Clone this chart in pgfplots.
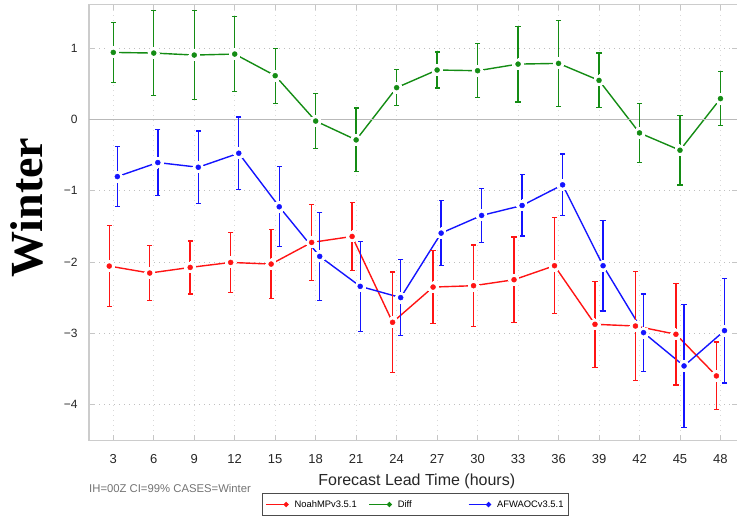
\documentclass[border=0pt]{standalone}
\usepackage{fontspec}
\setmainfont{Liberation Sans}
\newfontfamily\winterfont{Liberation Serif}
\usepackage{pgfplots}
\usepackage{pgfplotstable}
\pgfplotsset{compat=1.18}

\definecolor{noahred}{RGB}{255,20,20}
\definecolor{diffgreen}{RGB}{20,140,20}
\definecolor{afwablue}{RGB}{20,20,255}

% columns: lead time (red -0.3 / blue +0.3 offset), mean, 99% CI half width
\pgfplotstableread{
x y e
2.7 -2.057 0.565
5.7 -2.155 0.390
8.7 -2.076 0.372
11.7 -2.006 0.423
14.7 -2.029 0.484
17.7 -1.725 0.534
20.7 -1.641 0.477
23.7 -2.847 0.706
26.7 -2.352 0.510
29.7 -2.333 0.572
32.7 -2.249 0.600
35.7 -2.052 0.673
38.7 -2.875 0.603
41.7 -2.899 0.768
44.7 -3.015 0.713
47.7 -3.600 0.476
}\noah

\pgfplotstableread{
x y e
3 0.944 0.421
6 0.935 0.595
9 0.907 0.628
12 0.921 0.525
15 0.617 0.386
18 -0.020 0.385
21 -0.285 0.447
24 0.449 0.255
27 0.697 0.252
30 0.687 0.377
33 0.780 0.533
36 0.790 0.605
39 0.551 0.384
42 -0.187 0.417
45 -0.430 0.488
48 0.295 0.377
}\diff

\pgfplotstableread{
x y e
3.3 -0.800 0.423
6.3 -0.603 0.459
9.3 -0.669 0.510
12.3 -0.472 0.509
15.3 -1.224 0.560
18.3 -1.921 0.620
21.3 -2.342 0.634
24.3 -2.500 0.530
27.3 -1.594 0.456
30.3 -1.346 0.382
33.3 -1.206 0.430
36.3 -0.916 0.433
39.3 -2.052 0.636
42.3 -2.992 0.543
45.3 -3.460 0.868
48.3 -2.964 0.735
}\afwa

\pgfplotsset{
  trace/.style={color=#1, line width=1.4pt, mark=none},
  halo/.style={color=white, only marks, mark=*, mark size=5.5pt,
    mark options={draw=white, fill=white, line width=0pt}, forget plot},
  ebar/.style={color=#1, line width=1.4pt, mark=none, forget plot,
    quiver={u=0, v=2*\thisrow{e}}},
  ecap/.style={color=#1, only marks, mark=-, mark size=2.6pt,
    mark options={line width=1.2pt}, forget plot},
  dots/.style={color=#1, only marks, mark=*, mark size=2.5pt, forget plot},
}

\begin{document}
\begin{tikzpicture}
\useasboundingbox (0,0) rectangle (737pt,517pt);
\begin{axis}[
  at={(89pt,76.3pt)}, anchor=south west,
  scale only axis,
  width=649pt, height=436.4pt,
  xmin=1.2, xmax=49.3,
  ymin=-4.51, ymax=1.62,
  xtick={3,6,...,48},
  ytick={-4,-3,-2,-1,0,1},
  yticklabels={−4,−3,−2,−1,0,1},
  /pgf/number format/assume math mode=true,
  tick align=inside,
  major tick length=6pt,
  tick style={gray!45, line width=0.8pt},
  axis line style={gray!40, line width=1.2pt},
  xmajorgrids, ymajorgrids,
  every axis x grid/.style={gray!30, dash pattern=on 1pt off 4pt, line width=0.8pt},
  every axis y grid/.style={gray!50, dash pattern=on 1.2pt off 3.8pt, line width=1pt},
  xticklabel style={font=\fontsize{13}{15}\selectfont, text=black!85, yshift=-10pt},
  yticklabel style={font=\fontsize{12}{14}\selectfont, text=black!85, xshift=-8pt},
  xlabel={Forecast Lead Time (hours)},
  xlabel style={at={(axis description cs:0.505,0)}, anchor=center, yshift=-40.3pt,
    font=\fontsize{16}{19}\selectfont, text=black!85},
  legend columns=3,
  legend style={at={(0.2666,-0.1198)}, anchor=north west,
    draw=black!70, line width=0.8pt,
    font=\fontsize{9.4}{11}\selectfont, inner xsep=3pt, inner ysep=5pt},
  legend image code/.code={
    \draw[#1, line width=1.4pt] (0pt,0pt) -- (20pt,0pt);
    \fill[#1] (20pt,0pt) circle (1.8pt);
  },
]
% connecting lines
\addplot[trace=noahred] table[x=x, y=y] {\noah};
\addlegendentry{\hspace*{4pt}\makebox[72pt][l]{NoahMPv3.5.1}}
\addplot[trace=diffgreen] table[x=x, y=y] {\diff};
\addlegendentry{\hspace*{4pt}\makebox[68pt][l]{Diff}}
\addplot[trace=afwablue] table[x=x, y=y] {\afwa};
\addlegendentry{\hspace*{4pt}AFWAOCv3.5.1}

% gaps in the lines round each point
\addplot[halo] table[x=x, y=y] {\noah};
\addplot[halo] table[x=x, y=y] {\diff};
\addplot[halo] table[x=x, y=y] {\afwa};

\draw[gray!55, line width=1.3pt] (axis cs:1.2,0) -- (axis cs:49.3,0);

% confidence interval bars
\addplot[ebar=noahred] table[x=x, y expr=\thisrow{y}-\thisrow{e}] {\noah};
\addplot[ecap=noahred] table[x=x, y expr=\thisrow{y}-\thisrow{e}] {\noah};
\addplot[ecap=noahred] table[x=x, y expr=\thisrow{y}+\thisrow{e}] {\noah};
\addplot[ebar=diffgreen] table[x=x, y expr=\thisrow{y}-\thisrow{e}] {\diff};
\addplot[ecap=diffgreen] table[x=x, y expr=\thisrow{y}-\thisrow{e}] {\diff};
\addplot[ecap=diffgreen] table[x=x, y expr=\thisrow{y}+\thisrow{e}] {\diff};
\addplot[ebar=afwablue] table[x=x, y expr=\thisrow{y}-\thisrow{e}] {\afwa};
\addplot[ecap=afwablue] table[x=x, y expr=\thisrow{y}-\thisrow{e}] {\afwa};
\addplot[ecap=afwablue] table[x=x, y expr=\thisrow{y}+\thisrow{e}] {\afwa};

% means
\addplot[dots=noahred] table[x=x, y=y] {\noah};
\addplot[dots=diffgreen] table[x=x, y=y] {\diff};
\addplot[dots=afwablue] table[x=x, y=y] {\afwa};
\end{axis}

\node[rotate=90, anchor=base] at (43pt,309.5pt)
  {\winterfont\bfseries\fontsize{46}{50}\selectfont Winter};
\node[anchor=west, inner sep=0pt, text=black!55] at (89pt,29pt)
  {\fontsize{11.3}{13}\selectfont IH=00Z CI=99\% CASES=Winter};
\end{tikzpicture}
\end{document}
